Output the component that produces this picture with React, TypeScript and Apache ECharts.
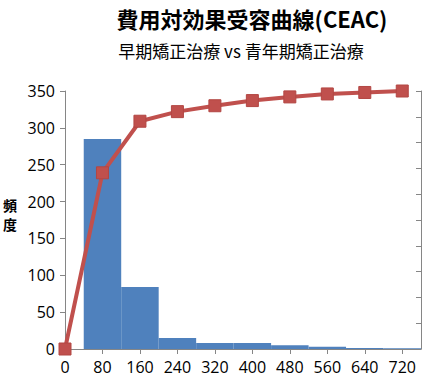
import React, { useEffect, useRef } from "react";
import * as echarts from "echarts";

const titleText = "費用対効果受容曲線(CEAC)";
const subtitleText = "早期矯正治療 vs 青年期矯正治療";
const yAxisLabelChars = ["頻", "度"];

// histogram bins: [start, end, frequency]
const binStarts = [40, 120, 200, 280, 360, 440, 520, 600, 680];
const binEnds = [120, 200, 280, 360, 440, 520, 600, 680, 760];
const binCounts = [285, 84, 15, 8, 8, 5, 3, 1.5, 1];

// cumulative curve
const curveX = [0, 80, 160, 240, 320, 400, 480, 560, 640, 720];
const curveY = [0, 239, 309, 322, 330, 337, 342, 346, 348, 350];

export default function App() {
  const ref = useRef<HTMLDivElement>(null);
  useEffect(() => {
    if (!ref.current) return;
    const chart = echarts.init(ref.current, null, { renderer: "svg" });
    const bins = binStarts.map((s, i) => [s, binEnds[i], binCounts[i]]);
    const line = curveX.map((x, i) => [x, curveY[i]]);
    const axisColor = "#868686";
    const font = "'Open Sans', 'Noto Sans CJK JP', sans-serif";
    const yLabelGraphics = yAxisLabelChars.map((ch, i) => ({
      type: "text",
      x: 10,
      y: 205 + i * 19,
      style: {
        text: ch,
        fontSize: 14,
        lineHeight: 14,
        fontWeight: "bold",
        fontFamily: "'Noto Sans CJK JP', sans-serif",
        fill: "#000",
        textAlign: "center",
        textVerticalAlign: "middle",
      },
    }));
    chart.setOption({
      animation: false,
      backgroundColor: "#ffffff",
      grid: { left: 65, right: 1, top: 91, bottom: 31 },
      graphic: [
        {
          type: "text",
          x: 252,
          y: 18,
          style: {
            text: titleText,
            fontSize: 22,
            fontWeight: "bold",
            fontFamily: "'Noto Sans CJK JP', sans-serif",
            fill: "#000",
            textAlign: "center",
            textVerticalAlign: "middle",
          },
        },
        {
          type: "text",
          x: 241,
          y: 50,
          style: {
            text: subtitleText,
            fontSize: 17,
            fontFamily: "'Noto Sans CJK JP', sans-serif",
            fill: "#000",
            textAlign: "center",
            textVerticalAlign: "middle",
          },
        },
        ...yLabelGraphics,
      ],
      xAxis: {
        type: "value",
        min: 0,
        max: 760,
        interval: 80,
        splitLine: { show: false },
        axisLine: { lineStyle: { color: axisColor } },
        axisTick: { show: true, length: 5, lineStyle: { color: axisColor } },
        axisLabel: {
          color: "#000",
          fontSize: 16,
          fontFamily: font,
          margin: 10,
          showMaxLabel: false,
        },
      },
      yAxis: [
        {
          type: "value",
          min: 0,
          max: 350,
          interval: 50,
          splitLine: { show: false },
          axisLine: { show: true, lineStyle: { color: axisColor } },
          axisTick: { show: true, length: 5, lineStyle: { color: axisColor } },
          axisLabel: { color: "#000", fontSize: 16, fontFamily: font, margin: 10 },
        },
        {
          type: "value",
          min: 0,
          max: 1,
          interval: 0.1,
          position: "right",
          splitLine: { show: false },
          axisLine: { show: true, lineStyle: { color: axisColor } },
          axisTick: { show: true, inside: true, length: 5, lineStyle: { color: axisColor } },
          axisLabel: { show: false },
        },
      ],
      series: [
        {
          type: "custom",
          data: bins,
          encode: { x: [0, 1], y: 2 },
          z: 1,
          renderItem: (params: any, api: any) => {
            const p0 = api.coord([api.value(0), api.value(2)]);
            const p1 = api.coord([api.value(1), 0]);
            return {
              type: "rect",
              shape: { x: p0[0], y: p0[1], width: p1[0] - p0[0], height: p1[1] - p0[1] },
              style: { fill: "#4F81BD" },
            };
          },
        },
        {
          type: "line",
          data: line,
          z: 5,
          symbol: "rect",
          symbolSize: 12,
          lineStyle: { color: "#C0504D", width: 4 },
          itemStyle: { color: "#C0504D", borderColor: "#B24643", borderWidth: 1 },
        },
      ],
    });
    return () => chart.dispose();
  }, []);
  return <div ref={ref} style={{ width: 422, height: 380, position: "absolute", left: 0, top: 0 }} />;
}
